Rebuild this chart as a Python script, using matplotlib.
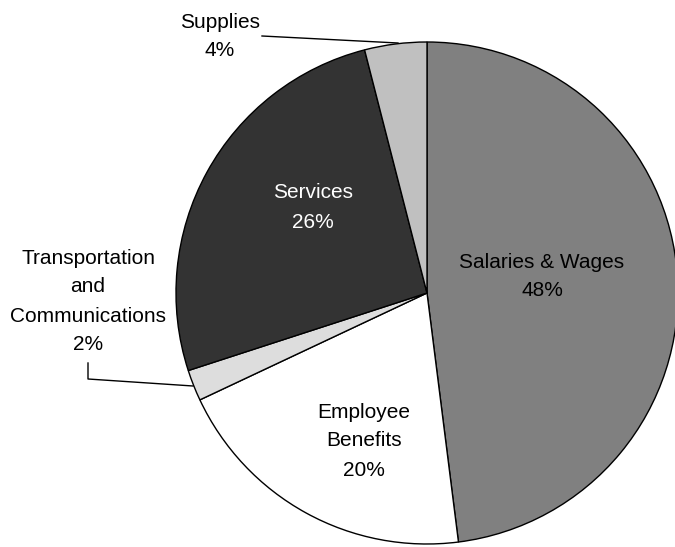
import matplotlib
matplotlib.use("Agg")
import matplotlib.pyplot as plt

categories = ["Salaries & Wages", "Employee Benefits", "Transportation and Communications", "Services", "Supplies"]
values = [48, 20, 2, 26, 4]
colors = ["#808080", "#ffffff", "#dddddd", "#333333", "#c0c0c0"]

W, H = 675, 547
fig = plt.figure(figsize=(W / 100, H / 100), dpi=100)
ax = fig.add_axes([0, 0, 1, 1])

cx, cy, r = 427, H - 293, 251
ax.pie(values, colors=colors, startangle=90, counterclock=False,
       center=(cx, cy), radius=r, frame=True,
       wedgeprops=dict(edgecolor="black", linewidth=1.0))
ax.set_xlim(0, W)
ax.set_ylim(0, H)
ax.set_aspect("equal")
ax.axis("off")

font = dict(family="Liberation Sans", fontsize=15, ha="center", va="center")

def lab(x, y_pix, lines, color="black"):
    for i, t in enumerate(lines):
        ax.text(x, H - (y_pix + i * 29), t, color=color, **font)

lab(542, 262, ["Salaries & Wages", f"{values[0]}%"])
lab(364, 412, ["Employee", "Benefits", f"{values[1]}%"])
lab(88, 258, ["Transportation", "and", "Communications", f"{values[2]}%"])
lab(313, 193, ["Services", f"{values[3]}%"], color="white")
lab(220, 22, ["Supplies", f"{values[4]}%"])

# leader lines
ax.plot([262, 398], [H - 36, H - 43], color="black", lw=1)
ax.plot([88, 88, 193], [H - 363, H - 379, H - 386], color="black", lw=1)

fig.savefig("out.png", dpi=100)
